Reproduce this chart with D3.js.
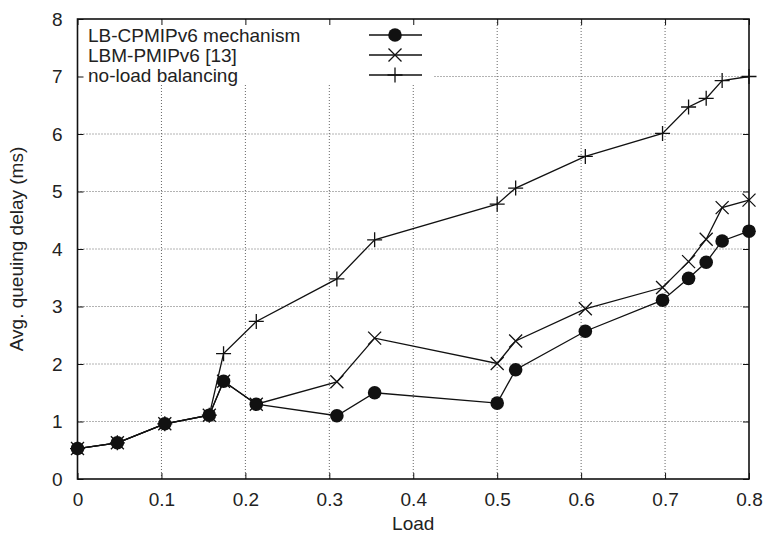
<!DOCTYPE html>
<html>
<head>
<meta charset="utf-8">
<script src="https://cdn.jsdelivr.net/npm/d3@7"></script>
<style>
  html, body { margin: 0; padding: 0; background: #fff; }
  svg text { font-family: "Liberation Sans", Arial, Helvetica, sans-serif; fill: #222; }
</style>
</head>
<body>
<svg id="chart" width="766" height="535"></svg>
<script>
// Offered load (x) shared by the three measurement series
const loads = [0, 0.0475, 0.104, 0.157, 0.174, 0.213, 0.309, 0.354, 0.5, 0.522, 0.605, 0.697, 0.728, 0.749, 0.768, 0.8];

// Average queuing delay (ms) per scheme
const delayLBCPMIPv6 = [0.53, 0.63, 0.96, 1.11, 1.70, 1.30, 1.10, 1.50, 1.32, 1.90, 2.57, 3.11, 3.49, 3.77, 4.14, 4.31];
const delayLBMPMIPv6 = [0.53, 0.63, 0.96, 1.11, 1.70, 1.30, 1.69, 2.45, 2.01, 2.40, 2.96, 3.33, 3.78, 4.17, 4.72, 4.85];
const delayNoLB      = [0.53, 0.63, 0.96, 1.11, 2.18, 2.74, 3.48, 4.16, 4.78, 5.06, 5.61, 6.01, 6.47, 6.62, 6.93, 7.00];

const seriesNames = ["LB-CPMIPv6 mechanism", "LBM-PMIPv6 [13]", "no-load balancing"];
const seriesMarks = ["circle", "cross", "plus"];
const seriesValues = [delayLBCPMIPv6, delayLBMPMIPv6, delayNoLB];

const xTicks = [0, 0.1, 0.2, 0.3, 0.4, 0.5, 0.6, 0.7, 0.8];
const yTicks = [0, 1, 2, 3, 4, 5, 6, 7, 8];

const svg = d3.select("#chart");
const plot = { left: 77.5, right: 749, top: 19, bottom: 479 };

const x = d3.scaleLinear().domain([0, 0.8]).range([plot.left, plot.right]);
const y = d3.scaleLinear().domain([0, 8]).range([plot.bottom, plot.top]);

const ink = "#111";
const fontSize = 19;

// Dotted grid
const grid = svg.append("g");
xTicks.slice(1, -1).forEach(t => {
  grid.append("line")
    .attr("x1", x(t)).attr("x2", x(t))
    .attr("y1", plot.top).attr("y2", plot.bottom)
    .attr("stroke", "#666").attr("stroke-width", 1).attr("stroke-dasharray", "1,2");
});
yTicks.slice(1, -1).forEach(t => {
  grid.append("line")
    .attr("x1", plot.left).attr("x2", plot.right)
    .attr("y1", y(t)).attr("y2", y(t))
    .attr("stroke", "#666").attr("stroke-width", 1).attr("stroke-dasharray", "1,2");
});

// Opaque key area
const keyBox = { x0: plot.left + 1, x1: 433, y0: plot.top + 1, y1: 84 };
svg.append("rect")
  .attr("x", keyBox.x0).attr("y", keyBox.y0)
  .attr("width", keyBox.x1 - keyBox.x0).attr("height", keyBox.y1 - keyBox.y0)
  .attr("fill", "#fff");

// Axes with inward ticks mirrored on all sides
const tickLen = 6;
const axisBottom = d3.axisBottom(x).tickValues(xTicks).tickFormat(d3.format("")).tickSizeInner(-tickLen).tickSizeOuter(0).tickPadding(14);
const axisLeft = d3.axisLeft(y).tickValues(yTicks).tickFormat(d3.format("d")).tickSizeInner(-tickLen).tickSizeOuter(0).tickPadding(15);
const axisTop = d3.axisTop(x).tickValues(xTicks).tickFormat("").tickSizeInner(-tickLen).tickSizeOuter(0);
const axisRight = d3.axisRight(y).tickValues(yTicks).tickFormat("").tickSizeInner(-tickLen).tickSizeOuter(0);

function styleAxis(g) {
  g.select(".domain").remove();
  g.selectAll(".tick line").attr("stroke", ink).attr("stroke-width", 1);
  g.selectAll(".tick text")
    .attr("font-size", fontSize)
    .attr("font-family", "Liberation Sans, Arial, sans-serif")
    .attr("fill", "#222");
}

svg.append("g").attr("transform", `translate(0,${plot.bottom})`).call(axisBottom).call(styleAxis)
  .selectAll(".tick text").attr("dy", "0.71em");
svg.append("g").attr("transform", `translate(${plot.left},0)`).call(axisLeft).call(styleAxis);
svg.append("g").attr("transform", `translate(0,${plot.top})`).call(axisTop).call(styleAxis);
svg.append("g").attr("transform", `translate(${plot.right},0)`).call(axisRight).call(styleAxis);

// Frame
svg.append("rect")
  .attr("x", plot.left).attr("y", plot.top)
  .attr("width", plot.right - plot.left).attr("height", plot.bottom - plot.top)
  .attr("fill", "none").attr("stroke", ink).attr("stroke-width", 1.6);

// Axis titles
svg.append("text")
  .attr("x", (plot.left + plot.right) / 2).attr("y", 530)
  .attr("text-anchor", "middle").attr("font-size", fontSize)
  .text("Load");
svg.append("text")
  .attr("transform", `translate(23,${(plot.top + plot.bottom) / 2}) rotate(-90)`)
  .attr("text-anchor", "middle").attr("font-size", fontSize)
  .text("Avg. queuing delay (ms)");

// Marker drawing
function drawMark(g, kind, cx, cy) {
  if (kind === "circle") {
    g.append("circle").attr("cx", cx).attr("cy", cy).attr("r", 6.8).attr("fill", ink);
  } else if (kind === "cross") {
    const s = 6.5;
    g.append("path")
      .attr("d", `M${cx - s},${cy - s}L${cx + s},${cy + s}M${cx - s},${cy + s}L${cx + s},${cy - s}`)
      .attr("stroke", ink).attr("stroke-width", 1.3).attr("fill", "none");
  } else {
    const s = 7.5;
    g.append("path")
      .attr("d", `M${cx - s},${cy}L${cx + s},${cy}M${cx},${cy - s}L${cx},${cy + s}`)
      .attr("stroke", ink).attr("stroke-width", 1.3).attr("fill", "none");
  }
}

const line = d3.line().x(d => x(d[0])).y(d => y(d[1]));

// Draw series back to front so the filled circles sit on top
for (let i = seriesValues.length - 1; i >= 0; i--) {
  const pts = loads.map((l, j) => [l, seriesValues[i][j]]);
  const g = svg.append("g");
  g.append("path").datum(pts).attr("d", line)
    .attr("fill", "none").attr("stroke", ink).attr("stroke-width", 1.3);
  pts.forEach(p => drawMark(g, seriesMarks[i], x(p[0]), y(p[1])));
}

// Key
const keyRows = [35, 55, 75];
seriesNames.forEach((name, i) => {
  const g = svg.append("g");
  g.append("text")
    .attr("x", 88).attr("y", keyRows[i]).attr("dy", "0.35em")
    .attr("font-size", fontSize).text(name);
  g.append("line")
    .attr("x1", 369).attr("x2", 422).attr("y1", keyRows[i]).attr("y2", keyRows[i])
    .attr("stroke", ink).attr("stroke-width", 1.3);
  drawMark(g, seriesMarks[i], 395, keyRows[i]);
});
</script>
</body>
</html>
